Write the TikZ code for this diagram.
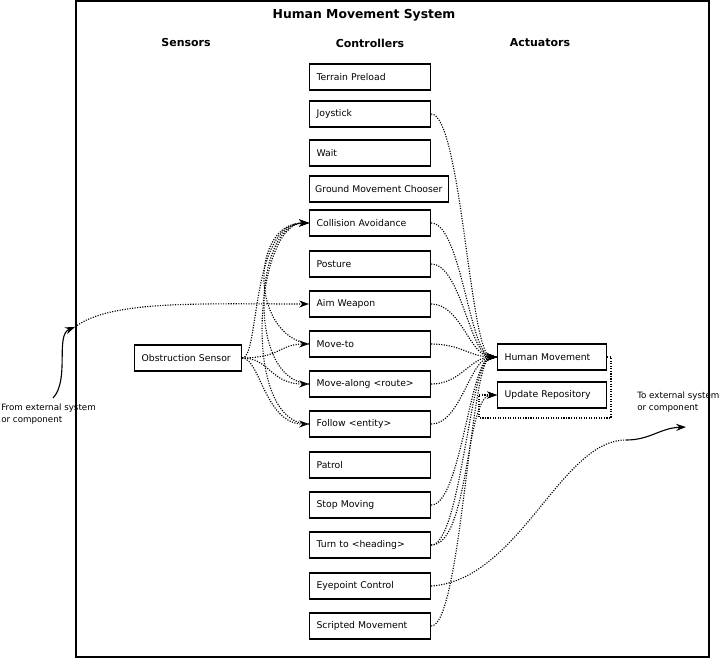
\documentclass[tikz,border=0pt]{standalone}
\usepackage{fontspec}
\setmainfont{DejaVu Sans}
\usetikzlibrary{arrows.meta}
\def\u{0.025}
\tikzset{
  box/.style={draw,thick,minimum height=26*\u cm,anchor=west,inner xsep=5pt,align=left,font=\fontsize{6.6}{8}\selectfont},
  flow/.style={densely dotted,thick,-{Stealth[length=7pt,width=5pt]}},
  head/.style={font=\bfseries\fontsize{7.8}{9}\selectfont}
}
\begin{document}
\begin{tikzpicture}[x=\u cm,y=-\u cm]
\useasboundingbox (0,0) rectangle (720,659);
\draw[thick] (76,1) rectangle (709,657);
\node[head,font=\bfseries\fontsize{8.8}{10}\selectfont] at (364,15) {Human Movement System};
\node[head] at (186,43) {Sensors};
\node[head] at (370,43) {Controllers};
\node[head] at (540,43) {Actuators};
% controllers
\foreach \n/\y/\t in {tp/77/Terrain Preload,joy/114/Joystick,wait/153/Wait,coll/223/Collision Avoidance,post/264/Posture,aim/304/Aim Weapon,mto/344/Move-to,malong/384/Move-along <route>,fol/424/Follow <entity>,pat/465/Patrol,stop/505/Stop Moving,turn/545/Turn to <heading>,eye/586/Eyepoint Control,scr/626/Scripted Movement}
  \node[box,text width=121*\u cm-10pt] (\n) at (309,\y) {\t};
\node[box,minimum width=138*\u cm,inner xsep=4pt] (gmc) at (309,189) {Ground Movement Chooser};
\node[box,text width=107*\u cm-10pt] (obs) at (134,358) {Obstruction Sensor};
\node[box,text width=109*\u cm-10pt] (hm) at (497,357) {Human Movement};
\node[box,text width=109*\u cm-10pt] (ur) at (497,395) {Update Repository};
% external
\node[align=left,anchor=north west,inner sep=0pt,font=\fontsize{6.2}{8}\selectfont] (fromtxt) at (1,404) {From external system\\or component};
\node[align=left,anchor=north west,inner sep=0pt,font=\fontsize{6.2}{8}\selectfont] (totxt) at (637,392) {To external system\\or component};
\coordinate (inL) at (75,327);
\coordinate (outR) at (626,440);
\coordinate (outE) at (686,427);
\draw[thick,-{Stealth[length=7pt,width=5pt]}] (53,398) .. controls (70,380) and (55,335) .. (inL);
\draw[thick,-{Stealth[length=7pt,width=5pt]}] (outR) .. controls (650,440) and (660,428) .. (outE);
\draw[flow] (inL) .. controls (110,300) and (200,304) .. (aim.west);
% sensor
\draw[flow] (obs.east) .. controls (260,358) and (250,223) .. (coll.west);
\draw[flow] (obs.east) .. controls (280,358) and (280,344) .. (mto.west);
\draw[flow] (obs.east) .. controls (270,358) and (270,384) .. (malong.west);
\draw[flow] (obs.east) .. controls (260,358) and (265,424) .. (fol.west);
\draw[flow] (mto.west) .. controls (250,335) and (250,223) .. (coll.west);
\draw[flow] (malong.west) .. controls (245,380) and (255,223) .. (coll.west);
\draw[flow] (fol.west) .. controls (240,424) and (255,223) .. (coll.west);
% to actuators
\foreach \c in {joy,coll,post,aim,mto,malong,fol,stop,turn,scr}
  \draw[flow] (\c.east) .. controls ++(30,0) and (470,357) .. (hm.west);
\draw[flow] (turn.east) .. controls (470,545) and (465,395) .. (ur.west);
\draw[flow] (hm.east) -- (611,357) -- (611,418) -- (479,418) -- (479,395) -- (ur.west);
\draw[densely dotted,thick] (eye.east) .. controls (520,580) and (560,440) .. (outR);
\end{tikzpicture}
\end{document}
